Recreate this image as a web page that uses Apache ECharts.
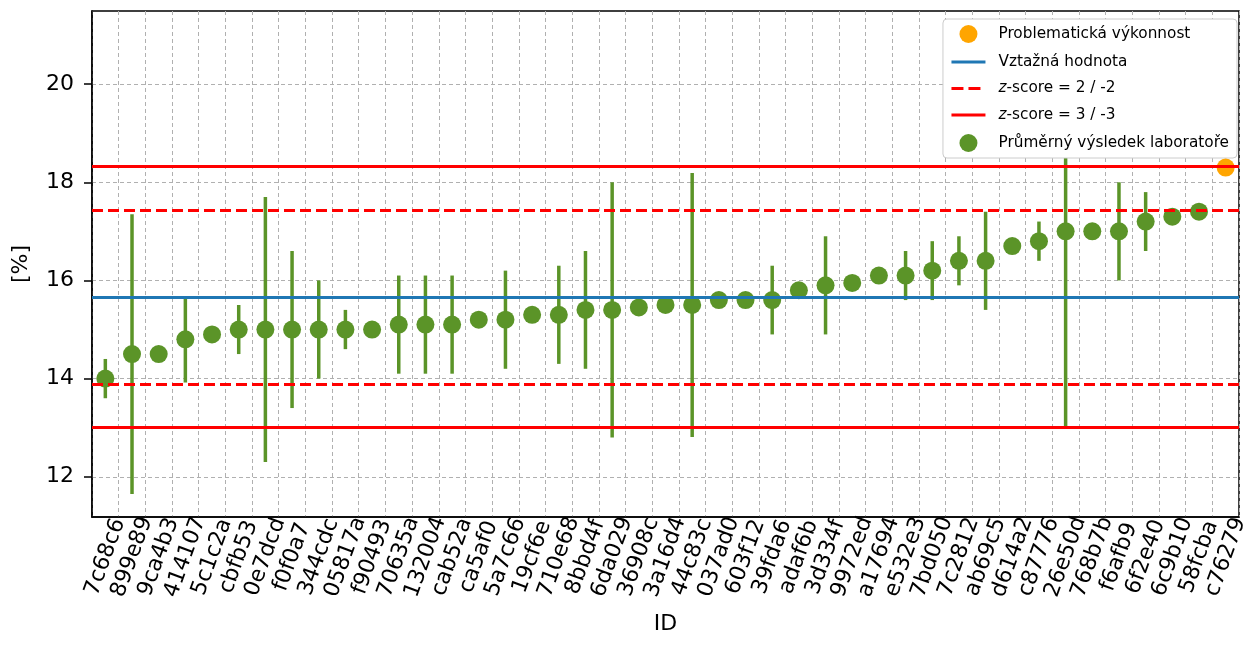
<!DOCTYPE html>
<html>
<head>
<meta charset="utf-8">
<script src="https://cdn.jsdelivr.net/npm/echarts@6/dist/echarts.min.js"></script>
<style>
html,body{margin:0;padding:0;background:#fff;}
#chart{width:1251px;height:657px;}
</style>
</head>
<body>
<div id="chart"></div>
<script>
const ids = ['7c68c6','899e89','9ca4b3','414107','5c1c2a','cbfb53','0e7dcd','f0f0a7','344cdc','05817a','f90493','70635a','132004','cab52a','ca5af0','5a7c66','19cf6e','710e68','8bbd4f','6da029','36908c','3a16d4','44c83c','037ad0','603f12','39fda6','adaf6b','3d334f','9972ed','a17694','e532e3','7bd050','7c2812','ab69c5','d614a2','c87776','26e50d','768b7b','f6afb9','6f2e40','6c9b10','58fcba','c76279'];
const means = [14.0,14.5,14.5,14.8,14.9,15.0,15.0,15.0,15.0,15.0,15.0,15.1,15.1,15.1,15.2,15.2,15.3,15.3,15.4,15.4,15.45,15.5,15.5,15.6,15.6,15.6,15.8,15.9,15.95,16.1,16.1,16.2,16.4,16.4,16.7,16.8,17.0,17.0,17.0,17.2,17.3,17.4,18.3];
const halfErrors = [0.4,2.85,0,0.88,0,0.5,2.7,1.6,1.0,0.4,0,1.0,1.0,1.0,0,1.0,0,1.0,1.2,2.6,0,0,2.69,0,0,0.7,0,1.0,0,0,0.5,0.6,0.5,1.0,0,0.4,4.0,0,1.0,0.6,0,0,0];
const problematicIds = ['c76279'];
const referenceValue = [15.665];
const zScore2Lines = [17.44, 13.89];
const zScore3Lines = [18.325, 13.005];
const yTicks = [12, 14, 16, 18, 20];
const yRange = [11.18, 21.49];

const GREEN = '#5b9428';
const ORANGE = '#ffa500';
const BLUE = '#1f77b4';
const RED = '#ff0000';
const CLEAR = 'rgba(0,0,0,0)';
const DASH = [11, 5];

const greenData = means.map((v, i) => problematicIds.includes(ids[i]) ? null : v);
const orangeData = means.map((v, i) => problematicIds.includes(ids[i]) ? v : null);
const errData = [];
means.forEach((v, i) => { if (halfErrors[i] > 0) errData.push([i, v - halfErrors[i], v + halfErrors[i]]); });

const chart = echarts.init(document.getElementById('chart'), null, {renderer: 'canvas'});
const axisFont = {fontFamily: 'DejaVu Sans', fontSize: 22, color: '#000'};
const hiddenSymbol = {color: CLEAR, borderColor: CLEAR, borderWidth: 0, opacity: 0};

chart.setOption({
  animation: false,
  backgroundColor: '#fff',
  grid: {left: 92, right: 6, top: 11, bottom: 140, show: true, borderColor: '#000', borderWidth: 1.5, backgroundColor: 'transparent'},
  legend: {
    data: [
      {name: 'Problematická výkonnost'},
      {name: 'Vztažná hodnota', itemStyle: hiddenSymbol, lineStyle: {color: BLUE, width: 3, type: 'solid'}},
      {name: 'z-score = 2 / -2', itemStyle: hiddenSymbol, lineStyle: {color: RED, width: 3, type: [12, 5]}},
      {name: 'z-score = 3 / -3', itemStyle: hiddenSymbol, lineStyle: {color: RED, width: 3, type: 'solid'}},
      {name: 'Průměrný výsledek laboratoře'}
    ],
    orient: 'vertical',
    right: 14,
    top: 19,
    itemWidth: 34,
    itemHeight: 18,
    itemGap: 11.5,
    padding: [6, 8, 6, 7],
    backgroundColor: '#fff',
    borderColor: '#cccccc',
    borderWidth: 1,
    borderRadius: 4,
    textStyle: {fontFamily: 'DejaVu Sans', fontSize: 15.3, color: '#000', padding: [0, 0, 0, 8],
      rich: {i: {fontFamily: 'DejaVu Sans', fontSize: 15.3, fontStyle: 'italic', color: '#000'}, n: {fontFamily: 'DejaVu Sans', fontSize: 15.3, color: '#000'}}},
    formatter: function (name) {
      if (name.indexOf('z-score') === 0) return '{i|z}{n|' + name.slice(1) + '}';
      return name;
    }
  },
  xAxis: {
    type: 'category',
    data: ids,
    boundaryGap: true,
    name: 'ID',
    nameLocation: 'middle',
    nameGap: 96,
    nameTextStyle: axisFont,
    axisLine: {lineStyle: {color: '#000', width: 1.5}},
    axisTick: {alignWithLabel: true, length: 8, lineStyle: {color: '#000', width: 1.5}},
    axisLabel: {interval: 0, rotate: 70, align: 'center', verticalAlign: 'middle', margin: 40, fontFamily: 'DejaVu Sans', fontSize: 22, color: '#000'},
    splitLine: {show: true, lineStyle: {color: '#b0b0b0', width: 1, type: [4, 3]}}
  },
  yAxis: {
    type: 'value',
    min: yRange[0],
    max: yRange[1],
    name: '[%]',
    nameLocation: 'middle',
    nameGap: 60,
    nameTextStyle: axisFont,
    axisLine: {show: true, lineStyle: {color: '#000', width: 1.5}},
    axisTick: {show: true, length: 8, customValues: yTicks, lineStyle: {color: '#000', width: 1.5}},
    axisLabel: {customValues: yTicks, margin: 18, fontFamily: 'DejaVu Sans', fontSize: 22, color: '#000'},
    splitLine: {show: true, lineStyle: {color: '#b0b0b0', width: 1, type: [4, 3]}}
  },
  series: [
    {
      name: 'Vztažná hodnota', type: 'line', data: [], symbol: 'none',
      lineStyle: {color: BLUE, width: 3}, itemStyle: hiddenSymbol,
      markLine: {silent: true, symbol: 'none', label: {show: false}, lineStyle: {color: BLUE, width: 3, type: 'solid', opacity: 1},
        data: referenceValue.map(v => ({yAxis: v}))}
    },
    {
      name: 'z-score = 2 / -2', type: 'line', data: [], symbol: 'none',
      lineStyle: {color: RED, width: 3, type: DASH}, itemStyle: hiddenSymbol,
      markLine: {silent: true, symbol: 'none', label: {show: false}, lineStyle: {color: RED, width: 3, type: DASH, opacity: 1},
        data: zScore2Lines.map(v => ({yAxis: v}))}
    },
    {
      name: 'z-score = 3 / -3', type: 'line', data: [], symbol: 'none',
      lineStyle: {color: RED, width: 3}, itemStyle: hiddenSymbol,
      markLine: {silent: true, symbol: 'none', label: {show: false}, lineStyle: {color: RED, width: 3, type: 'solid', opacity: 1},
        data: zScore3Lines.map(v => ({yAxis: v}))}
    },
    {
      name: 'errors', type: 'custom', data: errData, z: 3,
      renderItem: function (params, api) {
        const x = api.value(0);
        const lo = api.coord([x, api.value(1)]);
        const hi = api.coord([x, api.value(2)]);
        return {type: 'line', shape: {x1: lo[0], y1: lo[1], x2: hi[0], y2: hi[1]}, style: {stroke: GREEN, lineWidth: 3.5}};
      }
    },
    {
      name: 'Průměrný výsledek laboratoře', type: 'scatter', data: greenData, symbol: 'circle', symbolSize: 18, z: 4,
      itemStyle: {color: GREEN, opacity: 1}
    },
    {
      name: 'Problematická výkonnost', type: 'scatter', data: orangeData, symbol: 'circle', symbolSize: 18, z: 4,
      itemStyle: {color: ORANGE, opacity: 1}
    }
  ]
});
</script>
</body>
</html>
